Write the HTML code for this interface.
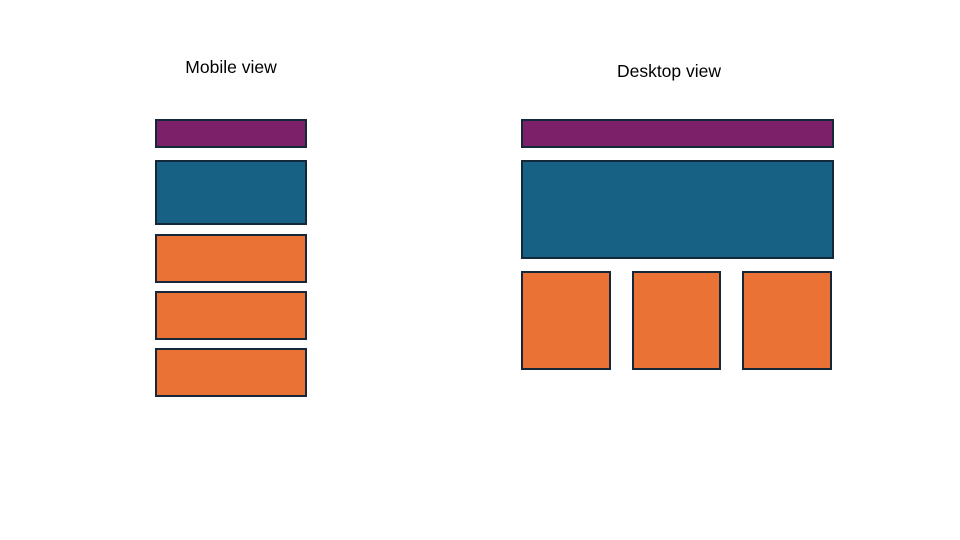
<!DOCTYPE html>
<html><head><meta charset="utf-8"><style>
html,body{margin:0;padding:0;background:#fff;}
#page{position:relative;width:960px;height:540px;overflow:hidden;font-family:"Liberation Sans",sans-serif;}
.b{position:absolute;box-sizing:border-box;border:2px solid #14283a;}
.p{background:#7b2069;}
.bl{background:#176184;}
.o{background:#e97234;}
.t{position:absolute;font-size:17.5px;color:#000;text-align:center;width:200px;}
</style></head><body>
<div id="page">
<div class="t" style="left:131px;top:57px">Mobile view</div>
<div class="t" style="left:569px;top:61px">Desktop view</div>

<div class="b p" style="left:155px;top:119px;width:152px;height:29px"></div>
<div class="b bl" style="left:155px;top:160px;width:152px;height:65px"></div>
<div class="b o" style="left:155px;top:234px;width:152px;height:49px"></div>
<div class="b o" style="left:155px;top:291px;width:152px;height:49px"></div>
<div class="b o" style="left:155px;top:348px;width:152px;height:49px"></div>

<div class="b p" style="left:521px;top:119px;width:313px;height:29px"></div>
<div class="b bl" style="left:521px;top:160px;width:313px;height:99px"></div>
<div class="b o" style="left:521px;top:271px;width:90px;height:99px"></div>
<div class="b o" style="left:632px;top:271px;width:89px;height:99px"></div>
<div class="b o" style="left:742px;top:271px;width:90px;height:99px"></div>
</div>
</body></html>
